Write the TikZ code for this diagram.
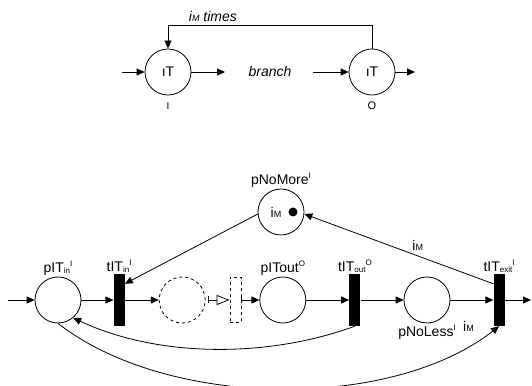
\documentclass[tikz,border=0pt]{standalone}
\usepackage{fontspec}
\setmainfont{Liberation Sans}
\usetikzlibrary{positioning,arrows.meta}
\tikzstyle{place}=[circle, draw=black, minimum size=46pt, inner sep=0pt, line width=0.8pt]
\tikzstyle{trans}=[rectangle, fill=black, minimum width=11pt, minimum height=52pt, inner sep=0pt]
\newcommand{\lowtxt}[1]{\raisebox{-1pt}{\fontsize{8}{8}\selectfont #1}}
\newcommand{\hightxt}[1]{\raisebox{6pt}{\fontsize{8}{8}\selectfont #1}}
\newcommand{\iM}{i{\fontsize{9}{9}\selectfont M}}

\begin{document}
\begin{tikzpicture}[
        x=1pt, y=1pt,
        font=\fontsize{14}{16}\selectfont,
        line/.style={-{Triangle[length=8pt,width=7pt]}, line width=0.8pt},
        every label/.style={inner sep=1pt},
      ]
      \useasboundingbox (0,0) rectangle (532,385);
      % loop in the upper part
      \node (loopI) [place, label={[font=\fontsize{10}{10}\selectfont, label distance=6pt]below:I}] at (168,313) {ıT};
      \node (loopO) [place, label={[font=\fontsize{11}{11}\selectfont, label distance=5pt]below:O}] at (372,313) {ıT};
      \node (branch) at (270,313) {\itshape branch};
      \coordinate (loopSrc) at (122,313);
      \coordinate (loopOut) at (225,313);
      \coordinate (branchOut) at (313,313);
      \coordinate (loopEnd) at (415,313);
      \draw [line] (loopSrc) -- (loopI);
      \draw [line] (loopI) -- (loopOut);
      \draw [line] (branchOut) -- (loopO);
      \draw [line] (loopO) -- (loopEnd);
      \draw [line] (loopO.north) -- ++(0,23) -| (loopI.north)
            node [pos=0.39, above] {\itshape\iM\ times};
      % net in the lower part
      \node (pITin) [place, label={above:{pIT\lowtxt{in}\hightxt{I}}}] at (58,85) {};
      \node (tITin) [trans, right=32pt of pITin, label={above:{tIT\lowtxt{in}\hightxt{I}}}] {};
      \node (pSkip) [place, dashed, right=34pt of tITin] {};
      \node (tSkip) [trans, draw, fill=none, dashed, line width=0.8pt, minimum height=45pt, right=24pt of pSkip] {};
      \node (pITout) [place, right=18pt of tSkip, label={above:{pITout\hightxt{O}}}] {};
      \node (tITout) [trans, right=43pt of pITout, label={above:{tIT\lowtxt{out}\hightxt{O}}}] {};
      \node (pNoLess) [place, right=43pt of tITout, label={below:{pNoLess\hightxt{I}}}] {};
      \node (tITexit) [trans, right=43pt of pNoLess, label={above:{tIT\lowtxt{exit}\hightxt{I}}}] {};
      \node (pNoMore) [place, label={above:{pNoMore\hightxt{I}}}, label={[xshift=-5pt]center:\iM}] at (281,173) {};
      \fill ([xshift=12pt]pNoMore.center) circle (4.5pt);
      \coordinate (netSrc) at (8,85);
      \coordinate (netEnd) at (531,85);
      \draw [line] (netSrc) -- (pITin);
      \draw [line] (pITin) -- (tITin);
      \draw [line] (tITin) -- (pSkip);
      \draw [{Bar[width=7pt]}-{Triangle[open,length=13pt,width=10pt]}, line width=0.8pt, shorten <=2pt] (pSkip) -- (tSkip);
      \draw [{Bar[width=7pt]}-{Triangle[length=8pt,width=7pt]}, line width=0.8pt] (tSkip) -- (pITout);
      \draw [line] (pITout) -- (tITout);
      \draw [line] (tITout) -- (pNoLess);
      \draw [line] (pNoLess) -- (tITexit) node [pos=0.42, below=18pt] {\iM};
      \draw [line] (tITexit) -- (netEnd);
      \draw [line] (pNoMore.185) -- ([yshift=-10pt]tITin.north east);
      \draw [line] ([yshift=-10pt]tITexit.north west) -- (pNoMore.-5)
            node [pos=0.4, above=2pt] {\iM};
      \draw [line] (tITout.south) to [out=-160, in=-25, looseness=0.85] (pITin.-50);
      \draw [line] (pITin.south) to [out=-38, in=-142, looseness=0.8] (tITexit.south);
    \end{tikzpicture}
\end{document}
